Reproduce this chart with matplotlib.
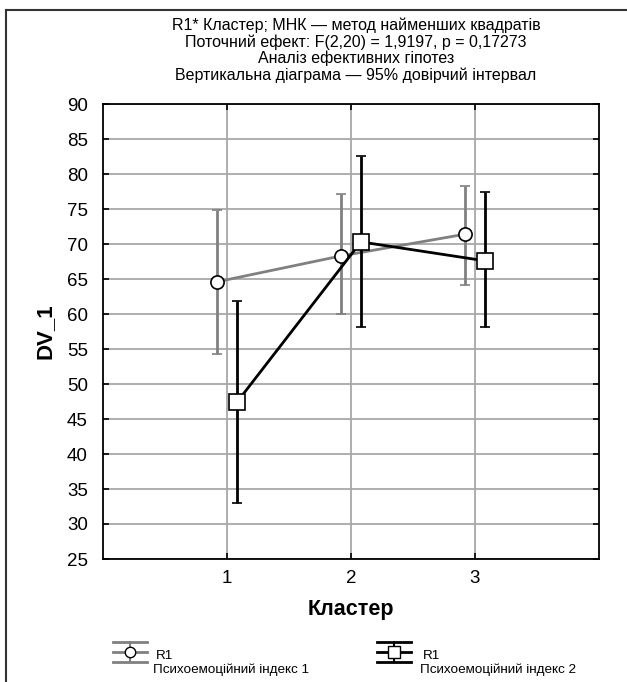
import numpy as np
import matplotlib
matplotlib.use('Agg')
from matplotlib import pyplot as plt
from matplotlib.lines import Line2D

plt.rcParams['font.family'] = ['Liberation Sans', 'DejaVu Sans']

## Data
clusters = [1, 2, 3]
mean_1 = [64.6, 68.3, 71.4]
low_1 = [54.3, 60.0, 64.2]
high_1 = [74.9, 77.1, 78.3]
mean_2 = [47.4, 70.3, 67.6]
low_2 = [33.0, 58.1, 58.1]
high_2 = [61.9, 82.6, 77.5]
yticks = [25, 30, 35, 40, 45, 50, 55, 60, 65, 70, 75, 80, 85, 90]
title_lines = ['R1* Кластер; МНК — метод найменших квадратів',
               'Поточний ефект: F(2,20) = 1,9197, p = 0,17273',
               'Аналіз ефективних гіпотез',
               'Вертикальна діаграма — 95% довірчий інтервал']
legend_labels = ['Психоемоційний індекс 1', 'Психоемоційний індекс 2']

W, H = 627, 682
fig = plt.figure(figsize=(W / 100, H / 100), dpi=100)
ax = fig.add_axes([103 / W, 1 - 559 / H, 496 / W, 455 / H])

gray = '#808080'
x = np.array(clusters, dtype=float)
m1 = np.array(mean_1); m2 = np.array(mean_2)
err1 = [m1 - np.array(low_1), np.array(high_1) - m1]
err2 = [m2 - np.array(low_2), np.array(high_2) - m2]

ax.errorbar(x - 0.08, m1, yerr=err1, color=gray, lw=2, marker='o', ms=9.5,
            mfc='white', mec='black', mew=1.2, ecolor=gray, elinewidth=2,
            capsize=3.5, capthick=2, zorder=3)
ax.errorbar(x + 0.08, m2, yerr=err2, color='black', lw=2, marker='s', ms=11,
            mfc='white', mec='black', mew=1.2, ecolor='black', elinewidth=2,
            capsize=3.5, capthick=2, zorder=4)

ax.set_xlim(0, 4)
ax.set_ylim(25, 90)
ax.set_xticks(clusters)
ax.set_yticks(yticks)
ax.grid(True, color='#a8a8a8', lw=1.3)
ax.set_axisbelow(True)
ax.tick_params(direction='in', length=4, width=1.2, color='black',
               labelsize=13.5, top=True, right=True, labeltop=False, labelright=False)
ax.tick_params(axis='y', pad=11)
ax.tick_params(axis='x', pad=8)
for s in ax.spines.values():
    s.set_linewidth(1.3)

ax.set_ylabel('DV_1', fontsize=16, fontweight='bold', labelpad=8)
fig.text(351 / W, 1 - 609 / H, 'Кластер', ha='center', va='center',
         fontsize=15.5, fontweight='bold')

for i, t in enumerate(title_lines):
    fig.text(356 / W, 1 - (25 + 16.8 * i) / H, t, ha='center', va='center', fontsize=11.5)

# outer frame
fig.add_artist(Line2D([5.5 / W, 1], [1 - 9.5 / H] * 2, color='#333333', lw=1.5))
fig.add_artist(Line2D([5.5 / W] * 2, [0, 1 - 9.5 / H], color='#333333', lw=1.5))

# legend symbols
def legend_symbol(cx, color, marker, ms):
    xs = [(cx - 17) / W, (cx + 17) / W]
    for yy in (642, 652, 662):
        fig.add_artist(Line2D(xs, [1 - yy / H] * 2, color=color, lw=2))
    fig.add_artist(Line2D([cx / W] * 2, [1 - 642 / H, 1 - 662 / H], color=color, lw=1.5))
    fig.add_artist(Line2D([cx / W], [1 - 652 / H], marker=marker, ms=ms, mfc='white',
                          mec='black', mew=1.0, color=color))

legend_symbol(130, gray, 'o', 7.5)
legend_symbol(394, 'black', 's', 8)
for lx, lab in ((153, legend_labels[0]), (420, legend_labels[1])):
    fig.text((lx + 3) / W, 1 - 656 / H, 'R1', ha='left', va='center', fontsize=9.7)
    fig.text(lx / W, 1 - 670 / H, lab, ha='left', va='center', fontsize=9.7)

plt.savefig('out.png', dpi=100)
